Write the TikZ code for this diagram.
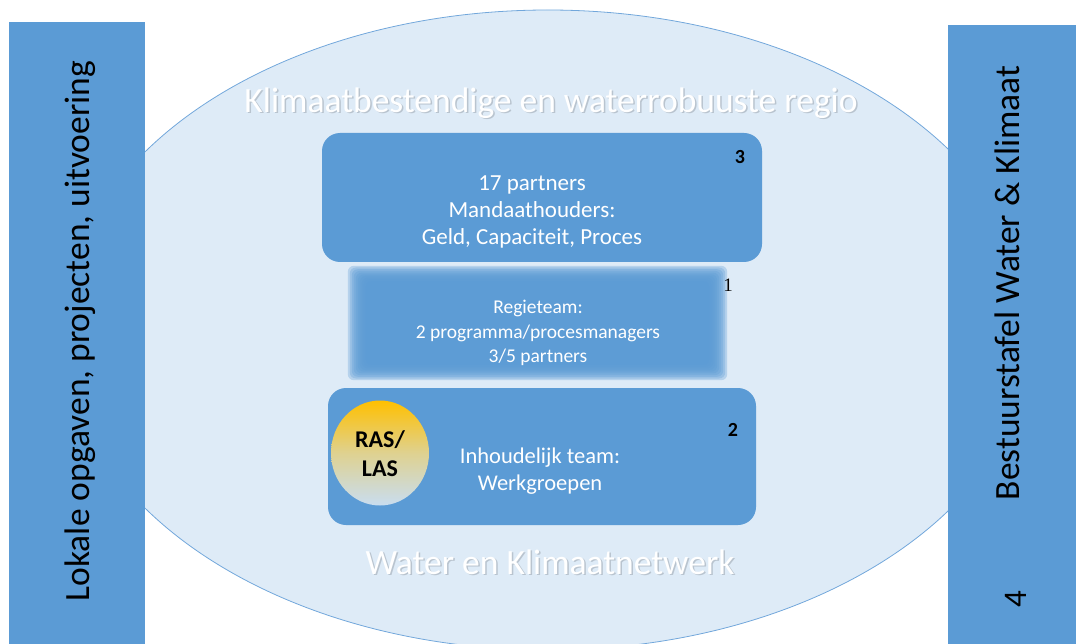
\documentclass[tikz,border=0pt]{standalone}
\usepackage{fontspec}
\setmainfont{Carlito}
\newfontfamily\cijferfont{Liberation Serif}
\usepackage{xcolor}
\usepackage{tikz}
\usetikzlibrary{shapes,positioning,calc}

\definecolor{barblue}{HTML}{5B9BD5}
\definecolor{ovalfill}{HTML}{DEEBF7}
\definecolor{ovalline}{HTML}{72A7DB}
\definecolor{rasyellow}{HTML}{FFC000}
\definecolor{raslight}{HTML}{C9DDF0}
\definecolor{schaduw}{HTML}{B9C4CF}

\begin{document}
\begin{tikzpicture}[x=1pt,y=-1pt,
    bar/.style={rectangle, fill=barblue, inner sep=0pt},
    block/.style={rectangle, rounded corners=18pt, fill=barblue, inner sep=0pt},
    bartext/.style={rotate=90, font=\fontsize{35.5}{40}\selectfont},
    kop/.style={text=white, font=\fontsize{35.5}{40}\selectfont},
    kopschaduw/.style={text=schaduw, font=\fontsize{35.5}{40}\selectfont},
    boxtext/.style={text=white, align=center, font=\fontsize{23}{27}\selectfont},
    tag/.style={font=\bfseries\fontsize{20}{21}\selectfont}]
    \useasboundingbox (0,0) rectangle (1076,644);

    % ovaal op de achtergrond
    \begin{scope}
        \clip (0,0) rectangle (1076,644);
        \node[ellipse, draw=ovalline, line width=0.8pt, fill=ovalfill, minimum width=970pt, minimum height=640pt, inner sep=0pt] (regio) at (548,330) {};
    \end{scope}

    % zijbalken
    \node[bar, minimum width=136pt, minimum height=622pt] (lokaal) at (77,333) {};
    \node[bar, minimum width=128pt, minimum height=619pt] (bestuur) at (1012,334.5) {};
    \node[bartext] (lokaaltekst) at (80,331) {Lokale opgaven, projecten, uitvoering};
    \node[bartext] (bestuurtekst) at (1007,283) {Bestuurstafel Water \& Klimaat};
    \node[bartext, font=\fontsize{33}{36}\selectfont] (bestuurnr) at (1016,599) {4};

    % koppen in het ovaal
    \node[kopschaduw] (regioschaduw) at (552.5,104.5) {Klimaatbestendige en waterrobuuste regio};
    \node[kop] (regiotitel) at (551,103) {Klimaatbestendige en waterrobuuste regio};
    \node[kopschaduw] (netwerkschaduw) at (551.5,563.5) {Water en Klimaatnetwerk};
    \node[kop] (netwerktitel) at (550,562) {Water en Klimaatnetwerk};

    % 3: mandaathouders
    \node[block, minimum width=440pt, minimum height=129pt] (mandaat) at (542,197.5) {};
    \node[boxtext] (mandaattekst) at (532,212) {17 partners\\Mandaathouders:\\Geld, Capaciteit, Proces};
    \node[tag] (mandaatnr) at (740,157) {3};

    % 1: regieteam (zachte randen)
    \node[minimum width=379pt, minimum height=114pt, inner sep=0pt] (regie) at (537.5,323) {};
    \foreach \i in {0,...,9}
        \fill[barblue, fill opacity=0.3, rounded corners=6pt] ($(regie.north west)+(\i*2,\i*1.7)$) rectangle ($(regie.south east)-(\i*2,\i*1.7)$);
    \node[text=white, align=center, font=\fontsize{19.5}{24.5}\selectfont] (regietekst) at (538,333) {Regieteam:\\2 programma/procesmanagers\\3/5 partners};
    \node[font=\cijferfont\fontsize{19}{20}\selectfont] (regienr) at (728,285) {1};

    % 2: inhoudelijk team
    \node[block, minimum width=428pt, minimum height=137pt] (inhoud) at (542,456.5) {};
    \node[ellipse, minimum width=98pt, minimum height=105pt, inner sep=0pt, top color=rasyellow, bottom color=raslight, middle color=rasyellow!40!raslight] (ras) at (380,453) {};
    \node[align=center, font=\bfseries\fontsize{24}{29}\selectfont] (rastekst) at (380,454) {RAS/\\LAS};
    \node[boxtext, font=\fontsize{22.5}{27}\selectfont] (inhoudtekst) at (540,471.5) {Inhoudelijk team:\\Werkgroepen};
    \node[tag] (inhoudnr) at (733,430) {2};
\end{tikzpicture}
\end{document}
